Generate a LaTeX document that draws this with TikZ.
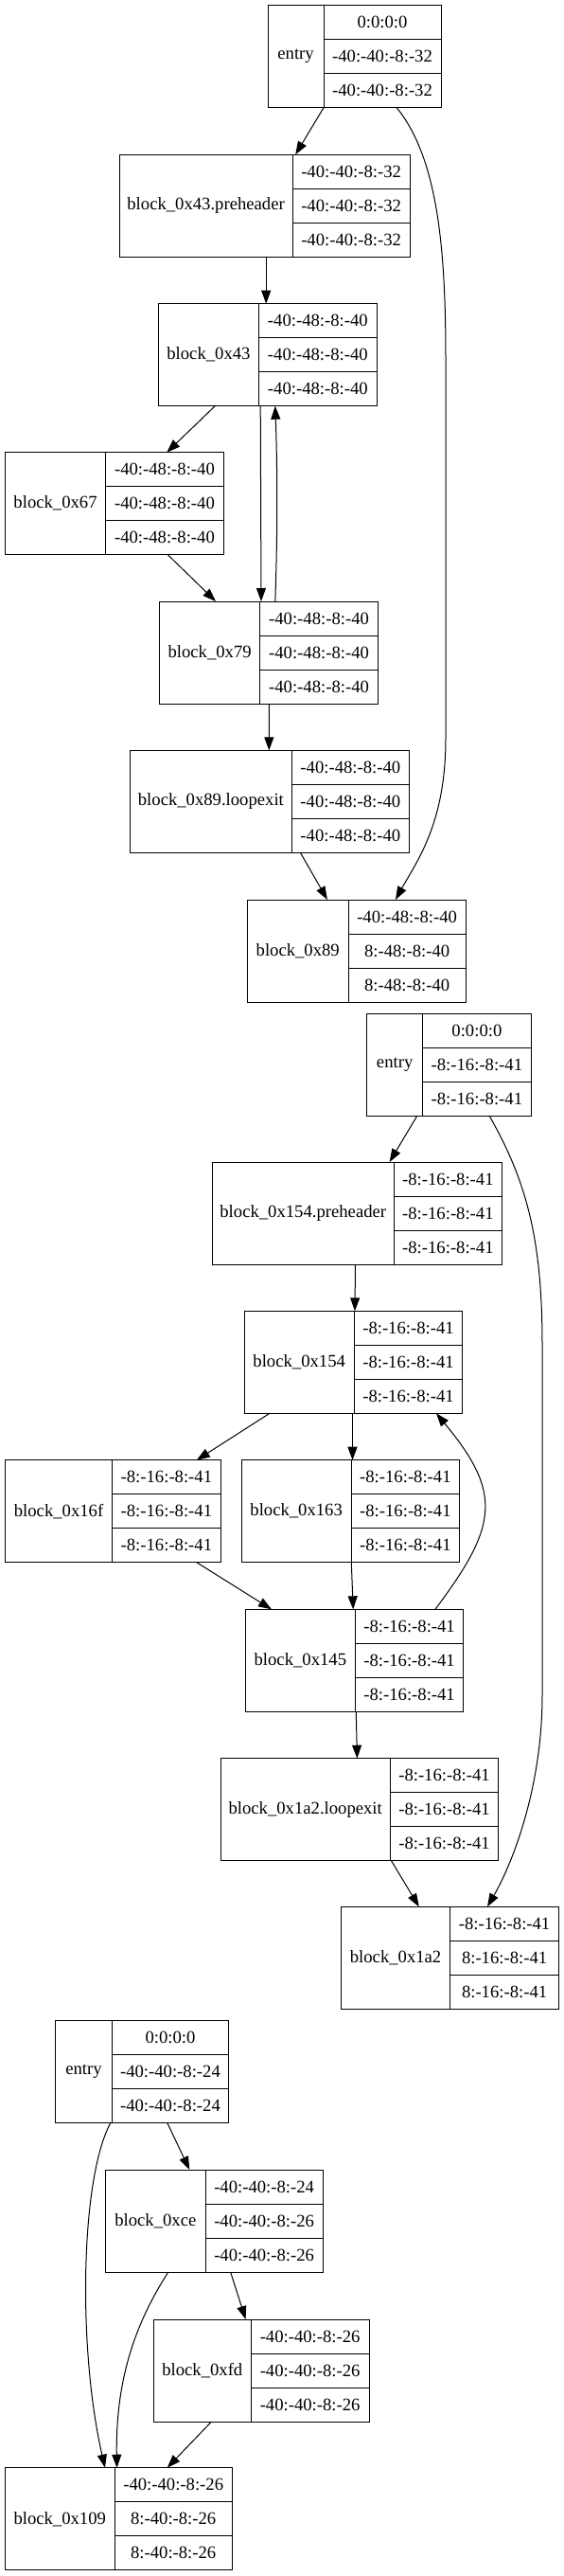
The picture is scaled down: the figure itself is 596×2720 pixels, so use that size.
\documentclass[tikz,border=0pt]{standalone}
\usepackage{fontspec}
\setmainfont{Liberation Serif}
\usetikzlibrary{arrows.meta,calc}

\def\px{0.75pt}
\tikzset{
  namecell/.style={draw,line width=0.75pt,inner sep=0pt,outer sep=0pt,minimum height=108*\px},
  fieldcell/.style={draw,line width=0.75pt,inner sep=0pt,outer sep=0pt,minimum height=36*\px},
  edge/.style={line width=0.75pt,-{Triangle[length=10.5pt,width=7.5pt]}}
}
% record: id, left, top, name width, field width, name, three fields
\newcommand{\blockrec}[9]{%
  \node[namecell,minimum width=#4*\px,anchor=north west] (#1) at (#2,#3) {#6};
  \node[fieldcell,minimum width=#5*\px,anchor=north west] (#1a) at (#1.north east) {#7};
  \node[fieldcell,minimum width=#5*\px,anchor=north west] (#1b) at (#1a.south west) {#8};
  \node[fieldcell,minimum width=#5*\px,anchor=north west] (#1c) at (#1b.south west) {#9};
}

\begin{document}
\begin{tikzpicture}[x=0.75pt,y=-0.75pt,font=\fontsize{14}{16}\selectfont]
      \useasboundingbox (0,0) rectangle (596,2720);

      % first function
      \blockrec{e1}{283.2}{5.7}{58.8}{124}{entry}{0:0:0:0}{-40:-40:-8:-32}{-40:-40:-8:-32}
      \blockrec{ph1}{126.2}{163.3}{182.8}{124.3}{block\_0x43.preheader}{-40:-40:-8:-32}{-40:-40:-8:-32}{-40:-40:-8:-32}
      \blockrec{b43}{167.2}{320.7}{106.5}{124.3}{block\_0x43}{-40:-48:-8:-40}{-40:-48:-8:-40}{-40:-48:-8:-40}
      \blockrec{b67}{5.3}{477.7}{106.5}{124.3}{block\_0x67}{-40:-48:-8:-40}{-40:-48:-8:-40}{-40:-48:-8:-40}
      \blockrec{b79}{168.4}{635}{106.5}{124.3}{block\_0x79}{-40:-48:-8:-40}{-40:-48:-8:-40}{-40:-48:-8:-40}
      \blockrec{le89}{137.6}{792.3}{170.6}{124.3}{block\_0x89.loopexit}{-40:-48:-8:-40}{-40:-48:-8:-40}{-40:-48:-8:-40}
      \blockrec{b89}{261.5}{950}{106.5}{124.3}{block\_0x89}{-40:-48:-8:-40}{8:-48:-8:-40}{8:-48:-8:-40}

      \draw[edge] (e1.south east) -- ($(ph1.north west)+(186,0)$);
      \draw[edge] ($(e1.south west)+(136,0)$) .. controls +(45,55) and +(0,-110) .. (471,380)
        -- (471,780) .. controls +(0,90) and +(22,-40) .. ($(b89.north west)+(156.5,0)$);
      \draw[edge] ($(ph1.south west)+(155,0)$) -- ($(b43.north west)+(114,0)$);
      \draw[edge] ($(b43.south west)+(60,0)$) -- ($(b67.north west)+(171,0)$);
      \draw[edge] ($(b43.south west)+(108,0)$) -- ($(b79.north west)+(107.6,0)$);
      \draw[edge] ($(b79.north west)+(122.4,0)$) .. controls +(2.5,-70) and +(2.5,70) .. ($(b43.south west)+(123.6,0)$);
      \draw[edge] ($(b67.south west)+(172,0)$) -- ($(b79.north west)+(59.6,0)$);
      \draw[edge] ($(b79.south west)+(116,0)$) -- ($(le89.north west)+(146.7,0)$);
      \draw[edge] ($(le89.south west)+(179.8,0)$) -- ($(b89.north west)+(84.4,0)$);

      % second function
      \blockrec{e2}{387.7}{1070}{58.9}{114.6}{entry}{0:0:0:0}{-8:-16:-8:-41}{-8:-16:-8:-41}
      \blockrec{ph2}{224.3}{1227}{191.9}{114.4}{block\_0x154.preheader}{-8:-16:-8:-41}{-8:-16:-8:-41}{-8:-16:-8:-41}
      \blockrec{b154}{258}{1384.3}{116.4}{114.2}{block\_0x154}{-8:-16:-8:-41}{-8:-16:-8:-41}{-8:-16:-8:-41}
      \blockrec{b16f}{5.3}{1541.7}{113.5}{114.2}{block\_0x16f}{-8:-16:-8:-41}{-8:-16:-8:-41}{-8:-16:-8:-41}
      \blockrec{b163}{255}{1541.7}{116.3}{114.2}{block\_0x163}{-8:-16:-8:-41}{-8:-16:-8:-41}{-8:-16:-8:-41}
      \blockrec{b145}{259.2}{1699.3}{116.3}{114.2}{block\_0x145}{-8:-16:-8:-41}{-8:-16:-8:-41}{-8:-16:-8:-41}
      \blockrec{le1a2}{233}{1856.7}{179.4}{114.2}{block\_0x1a2.loopexit}{-8:-16:-8:-41}{-8:-16:-8:-41}{-8:-16:-8:-41}
      \blockrec{b1a2}{360.3}{2013.3}{115.6}{114.4}{block\_0x1a2}{-8:-16:-8:-41}{8:-16:-8:-41}{8:-16:-8:-41}

      \draw[edge] ($(e2.south west)+(53.2,0)$) -- ($(ph2.north west)+(187.3,0)$);
      \draw[edge] ($(e2.south west)+(129.3,0)$) .. controls +(40,70) and +(0,-110) .. (573,1420)
        -- (573,1790) .. controls +(0,100) and +(25,-43) .. ($(b1a2.north west)+(154.7,0)$);
      \draw[edge] ($(ph2.south west)+(151.2,0)$) -- ($(b154.north west)+(117,0)$);
      \draw[edge] ($(b154.south west)+(27,0)$) -- ($(b16f.north west)+(202.5,0)$);
      \draw[edge] ($(b154.south west)+(114.5,0)$) -- ($(b163.north west)+(117.5,0)$);
      \draw[edge] ($(b145.north west)+(200.7,0)$) .. controls +(66,-88) and +(70.4,84.7) .. ($(b154.south west)+(203,0)$);
      \draw[edge] ($(b16f.south west)+(202.5,0)$) -- ($(b145.north west)+(27.8,0)$);
      \draw[edge] ($(b163.south west)+(116.3,0)$) -- ($(b145.north west)+(114,0)$);
      \draw[edge] ($(b145.south west)+(117.1,0)$) -- ($(le1a2.north west)+(144.4,0)$);
      \draw[edge] ($(le1a2.south west)+(180.5,0)$) -- ($(b1a2.north west)+(82.5,0)$);

      % third function
      \blockrec{e3}{58.9}{2133.3}{59.3}{123.5}{entry}{0:0:0:0}{-40:-40:-8:-24}{-40:-40:-8:-24}
      \blockrec{bce}{111.7}{2291}{105.3}{124.3}{block\_0xce}{-40:-40:-8:-24}{-40:-40:-8:-26}{-40:-40:-8:-26}
      \blockrec{bfd}{162.3}{2449}{103}{124.7}{block\_0xfd}{-40:-40:-8:-26}{-40:-40:-8:-26}{-40:-40:-8:-26}
      \blockrec{b109}{5.3}{2605.7}{115.9}{124}{block\_0x109}{-40:-40:-8:-26}{8:-40:-8:-26}{8:-40:-8:-26}

      \draw[edge] ($(e3.south west)+(117.8,0)$) -- ($(bce.north west)+(88.6,0)$);
      \draw[edge] ($(e3.south west)+(58.1,0)$) .. controls +(-32,58) and +(-29,-126) .. ($(b109.north west)+(105.7,0)$);
      \draw[edge] ($(bce.south west)+(66.2,0)$) .. controls +(-33,51) and +(-1.5,-96) .. ($(b109.north west)+(118.2,0)$);
      \draw[edge] ($(bce.south west)+(131.9,0)$) -- ($(bfd.north west)+(97.3,0)$);
      \draw[edge] ($(bfd.south west)+(61.2,0)$) -- ($(b109.north west)+(171.4,0)$);
\end{tikzpicture}
\end{document}
